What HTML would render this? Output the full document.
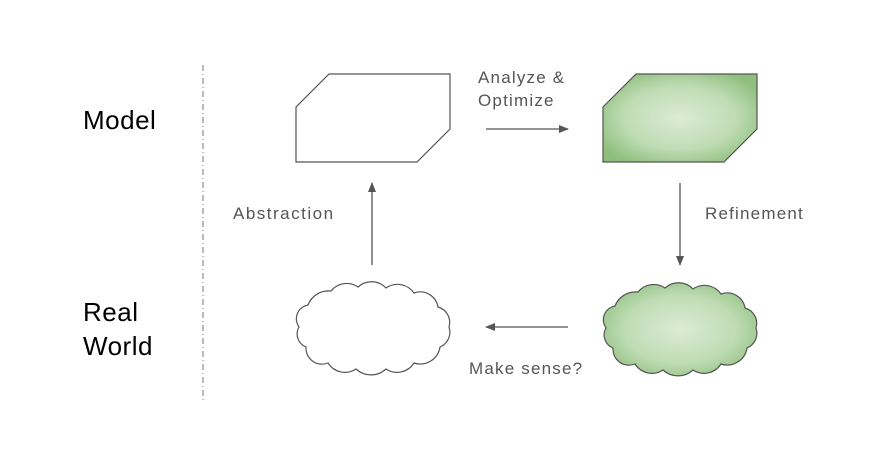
<!DOCTYPE html>
<html><head><meta charset="utf-8"><style>
body{margin:0;background:#fff;}
svg{display:block;font-family:"Liberation Sans",sans-serif;}
</style></head><body>
<svg width="877" height="455" viewBox="0 0 877 455" xmlns="http://www.w3.org/2000/svg">
<defs>
<radialGradient id="g" cx="50%" cy="50%" r="60%">
<stop offset="0" stop-color="#dcebd6"/><stop offset="0.6" stop-color="#bfdcb4"/><stop offset="1" stop-color="#8fbf7e"/>
</radialGradient>
<marker id="a" markerWidth="10" markerHeight="8" refX="9" refY="4" orient="auto" markerUnits="userSpaceOnUse">
<path d="M0,0 L10,4 L0,8 z" fill="#555"/></marker>
<path id="cloud" d="M3,44 A14,14 0 0 1 12,22 A22,22 0 0 1 35,8 A20,20 0 0 1 62,4 A20,20 0 0 1 90,5 A20,20 0 0 1 118,10 A18,18 0 0 1 142,24 A16,16 0 0 1 153,44 A16,16 0 0 1 144,64 A20,20 0 0 1 118,80 A20,20 0 0 1 90,86 A22,22 0 0 1 60,86 A20,20 0 0 1 32,80 A16,16 0 0 1 10,64 A14,14 0 0 1 3,44 Z"/>
</defs>
<line x1="203" y1="65" x2="203" y2="402" stroke="#777" stroke-dasharray="6,3,1,3"/>
<g font-size="26" fill="#000" letter-spacing="0.5">
<text x="83" y="129">Model</text>
<text x="83" y="321">Real</text>
<text x="83" y="355">World</text>
</g>
<polygon points="329,74 450,74 450,129 417,162 296,162 296,107" fill="#fff" stroke="#555" stroke-width="1.2"/>
<polygon points="636,74 757,74 757,129 724,162 603,162 603,107" fill="url(#g)" stroke="#555" stroke-width="1.2"/>
<use href="#cloud" x="296" y="283" fill="#fff" stroke="#555" stroke-width="1.2"/>
<use href="#cloud" x="603" y="284" fill="url(#g)" stroke="#555" stroke-width="1.2"/>
<g stroke="#555" stroke-width="1.3" fill="none">
<line x1="486" y1="129" x2="568" y2="129" marker-end="url(#a)"/>
<line x1="568" y1="327" x2="486" y2="327" marker-end="url(#a)"/>
<line x1="372" y1="265" x2="372" y2="183" marker-end="url(#a)"/>
<line x1="680" y1="183" x2="680" y2="265" marker-end="url(#a)"/>
</g>
<g font-size="17" fill="#555" letter-spacing="1.2">
<text x="478" y="83">Analyze &amp;</text>
<text x="478" y="106">Optimize</text>
<text x="233" y="219" letter-spacing="1.5">Abstraction</text>
<text x="705" y="219">Refinement</text>
<text x="469" y="374">Make sense?</text>
</g>
</svg>
</body></html>
